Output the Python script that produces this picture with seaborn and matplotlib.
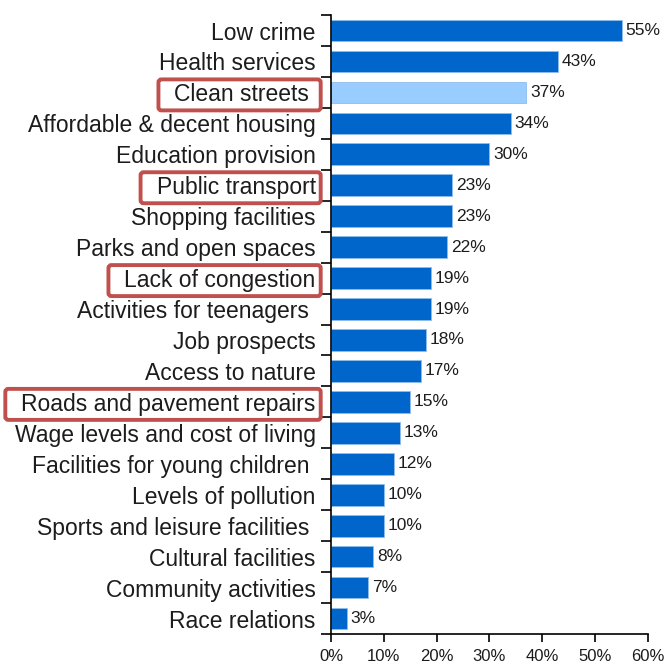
import matplotlib
matplotlib.use("Agg")
import matplotlib.pyplot as plt
from matplotlib.patches import FancyBboxPatch
from matplotlib.ticker import FixedLocator, PercentFormatter
import seaborn as sns
import pandas as pd

categories = [
    "Low crime", "Health services", "Clean streets ", "Affordable & decent housing",
    "Education provision", "Public transport", "Shopping facilities",
    "Parks and open spaces", "Lack of congestion", "Activities for teenagers ",
    "Job prospects", "Access to nature", "Roads and pavement repairs",
    "Wage levels and cost of living", "Facilities for young children ",
    "Levels of pollution", "Sports and leisure facilities ", "Cultural facilities",
    "Community activities", "Race relations",
]
values = [55, 43, 37, 34, 30, 23, 23, 22, 19, 19, 18, 17, 15, 13, 12, 10, 10, 8, 7, 3]
highlighted_bar = ["Clean streets "]
boxed_labels = ["Clean streets ", "Public transport", "Lack of congestion",
                "Roads and pavement repairs"]

DARK = "#0066CC"
LIGHT = "#99CCFF"
BOX_RED = "#C0504D"
TEXT = "#1c1c1c"

sns.set_theme(style="white")
plt.rcParams["font.family"] = ["Liberation Sans", "DejaVu Sans"]

df = pd.DataFrame({"item": categories, "pct": values})
df["group"] = ["light" if c in highlighted_bar else "dark" for c in categories]

fig = plt.figure(figsize=(6.65, 6.68), dpi=100)
ax = fig.add_axes([0.4977, 0.0509, 0.4767, 0.9266])

sns.barplot(data=df, y="item", x="pct", hue="group", order=categories,
            palette={"dark": DARK, "light": LIGHT}, saturation=1, orient="h",
            width=0.7, edgecolor="#8FBDEB", linewidth=0.6, legend=False, ax=ax)

ax.set_xlim(0, 60)
ax.set_ylim(len(categories) - 0.5, -0.5)
ax.set_xticks(range(0, 61, 10))
ax.xaxis.set_major_formatter(PercentFormatter(decimals=0))
ax.set_xlabel("")
ax.set_ylabel("")

for s in ["top", "right"]:
    ax.spines[s].set_visible(False)
for s in ["left", "bottom"]:
    ax.spines[s].set_color("black")
    ax.spines[s].set_linewidth(1.2)

ax.tick_params(axis="y", which="major", length=0, pad=11, labelsize=16.5,
               labelcolor=TEXT)
ax.yaxis.set_minor_locator(FixedLocator([i - 0.5 for i in range(len(categories) + 1)]))
ax.tick_params(axis="y", which="minor", left=True, length=7, width=1.2, color="black")
ax.tick_params(axis="x", which="major", bottom=True, length=6, width=1.2,
               color="black", pad=5, labelsize=12, labelcolor=TEXT)

for i, v in enumerate(values):
    ax.text(v + 0.7, i, f"{v}%", va="center", ha="left", fontsize=12.5,
            color=TEXT)

fig.canvas.draw()
renderer = fig.canvas.get_renderer()
for lab in ax.get_yticklabels():
    if lab.get_text() in boxed_labels:
        bb = lab.get_window_extent(renderer)
        cy = (bb.y0 + bb.y1) / 2
        x0 = bb.x0 - 16
        x1 = bb.x1 + 5
        h = 31
        box = FancyBboxPatch((x0, cy - h / 2), x1 - x0, h,
                             boxstyle="round,pad=0,rounding_size=3",
                             transform=None, fill=False, edgecolor=BOX_RED,
                             linewidth=2.8, clip_on=False)
        fig.add_artist(box)

fig.savefig("out.png", dpi=100)
